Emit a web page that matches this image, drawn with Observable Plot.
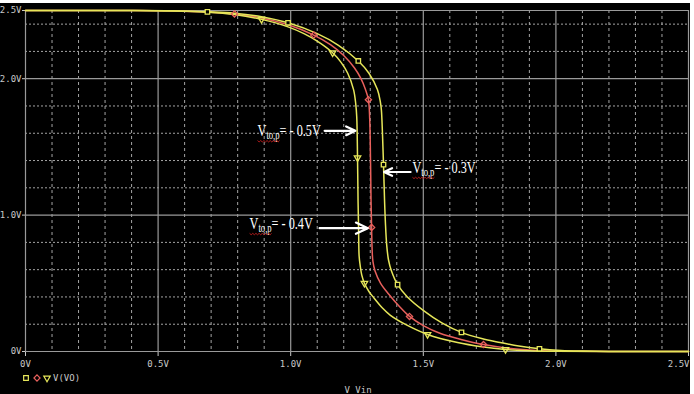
<!DOCTYPE html>
<html>
<head>
<meta charset="utf-8">
<script src="https://cdn.jsdelivr.net/npm/d3@7"></script>
<script src="https://cdn.jsdelivr.net/npm/@observablehq/plot@0.6"></script>
<style>
  html, body { margin: 0; padding: 0; background: #ffffff; }
  body { width: 694px; height: 394px; position: relative; overflow: hidden; }
  #panel { position: absolute; left: 0; top: 3px; width: 690px; height: 391px; background: #000; overflow: hidden; }
  #chart { position: absolute; left: 0; top: 0; }
  #legend { position: absolute; left: 20px; top: 368px; }
  #xtitle { position: absolute; left: 330px; top: 382px; width: 56px; text-align: center;
            font: 9px "DejaVu Sans Mono", monospace; color: #c8c8c8; }
</style>
</head>
<body>
<div id="panel">
  <div id="chart"></div>
  <div id="legend"></div>
  <div id="xtitle">V_Vin</div>
</div>
<script>
// ---------- data ----------
const xTicks = [0, 0.5, 1, 1.5, 2, 2.5];
const xTickLabels = ["0V", "0.5V", "1.0V", "1.5V", "2.0V", "2.5V"];
const yTicks = [0, 1, 2, 2.5];
const yTickLabels = ["0V", "1.0V", "2.0V", "2.5V"];
const xMinor = [0.1,0.2,0.3,0.4,0.6,0.7,0.8,0.9,1.1,1.2,1.3,1.4,1.6,1.7,1.8,1.9,2.1,2.2,2.3,2.4];
const yMinor = [0.2,0.4,0.6,0.8,1.2,1.4,1.6,1.8,2.2,2.4];
const xMajor = [0, 0.5, 1, 1.5, 2, 2.5];
const yMajor = [0, 1, 2, 2.5];

// Vto,p = -0.3 V (squares)
const curveSquare = [[0,2.5],[0.4,2.5],[0.55,2.498],[0.686,2.49],[0.788,2.48],[0.89,2.455],[0.99,2.41],[1.1,2.33],[1.18,2.245],[1.255,2.13],[1.295,2.04],[1.327,1.92],[1.338,1.83],[1.342,1.77],[1.346,1.6],[1.350,1.37],[1.354,1.1],[1.357,0.95],[1.362,0.78],[1.369,0.669],[1.38,0.59],[1.403,0.49],[1.44,0.40],[1.501,0.30],[1.57,0.21],[1.644,0.14],[1.72,0.095],[1.79,0.066],[1.86,0.04],[1.938,0.02],[2.02,0.008],[2.1,0.003],[2.2,0.0],[2.5,0]];
// Vto,p = -0.4 V (diamonds)
const curveDiamond = [[0,2.5],[0.4,2.5],[0.55,2.497],[0.686,2.488],[0.788,2.475],[0.89,2.445],[0.99,2.395],[1.087,2.32],[1.15,2.25],[1.20,2.17],[1.24,2.08],[1.265,2.0],[1.282,1.92],[1.293,1.846],[1.298,1.7],[1.301,1.4],[1.303,1.1],[1.305,0.91],[1.307,0.75],[1.310,0.66],[1.318,0.59],[1.339,0.5],[1.37,0.42],[1.41,0.33],[1.448,0.257],[1.50,0.19],[1.565,0.132],[1.65,0.085],[1.727,0.051],[1.83,0.022],[1.93,0.008],[2.05,0.002],[2.2,0],[2.5,0]];
// Vto,p = -0.5 V (triangles)
const curveTriangle = [[0,2.5],[0.4,2.5],[0.55,2.496],[0.686,2.487],[0.788,2.47],[0.89,2.435],[0.99,2.38],[1.05,2.33],[1.10,2.275],[1.158,2.19],[1.19,2.12],[1.215,2.04],[1.237,1.92],[1.245,1.82],[1.249,1.72],[1.252,1.42],[1.254,1.1],[1.256,0.9],[1.258,0.70],[1.262,0.63],[1.268,0.56],[1.278,0.50],[1.295,0.44],[1.312,0.397],[1.345,0.32],[1.376,0.265],[1.44,0.191],[1.516,0.125],[1.629,0.066],[1.72,0.035],[1.81,0.015],[1.9,0.006],[2.0,0.002],[2.2,0],[2.5,0]];

const markSquare = [[0.686,2.49],[0.99,2.41],[1.255,2.13],[1.350,1.37],[1.403,0.49],[1.644,0.14],[1.938,0.02]];
const markDiamond = [[0.788,2.475],[1.087,2.32],[1.293,1.846],[1.305,0.91],[1.448,0.257],[1.727,0.051]];
const markTriangle = [[0.89,2.435],[1.158,2.19],[1.252,1.42],[1.278,0.50],[1.516,0.125],[1.81,0.015]];

// annotations
const annotValues = ["- 0.5V", "- 0.3V", "- 0.4V"];
const annotX = [0.875, 1.459, 0.845];
const annotY = [1.618, 1.349, 0.9375];
const arrowX1 = [1.128, 1.452, 1.109];
const arrowX2 = [1.244, 1.352, 1.291];
const arrowY = [1.618, 1.316, 0.904];

const legendLabel = "V(VO)";

// ---------- styles ----------
const YEL = "#e6e65a";
const RED = "#e8605c";
const GRID = "#a4a4a4";
const TXT = "#c8c8c8";

const xy = {x: d => d[0], y: d => d[1]};
const annot = annotValues.map((v, i) => ({v, x: annotX[i], y: annotY[i]}));
const arrows = arrowX1.map((x1, i) => ({x1, x2: arrowX2[i], y: arrowY[i]}));
const xl = xTicks.map((v, i) => ({v, l: xTickLabels[i]}));
const yl = yTicks.map((v, i) => ({v, l: yTickLabels[i]}));

const chart = Plot.plot({
  width: 690,
  height: 372,
  marginLeft: 25,
  marginRight: 2,
  marginTop: 7,
  marginBottom: 24,
  style: {background: "#000", color: TXT, fontFamily: "DejaVu Sans Mono, monospace", fontSize: "9px"},
  x: {domain: [0, 2.5], ticks: xTicks, tickFormat: () => "", tickSize: 5, label: null},
  y: {domain: [0, 2.5], ticks: yTicks, tickFormat: () => "", tickSize: 3, label: null},
  marks: [
    Plot.ruleY(yMinor, {stroke: GRID, strokeDasharray: "2,2", strokeWidth: 1}),
    Plot.ruleX(xMinor, {stroke: GRID, strokeDasharray: "3,3", strokeWidth: 1}),
    Plot.ruleY(yMajor, {stroke: "#9a9a9a", strokeWidth: 1.2}),
    Plot.ruleX(xMajor, {stroke: "#9a9a9a", strokeWidth: 1.2}),
    Plot.line(curveDiamond, {...xy, stroke: RED, strokeWidth: 1.5, curve: "catmull-rom"}),
    Plot.line(curveTriangle, {...xy, stroke: YEL, strokeWidth: 1.5, curve: "catmull-rom"}),
    Plot.line(curveSquare, {...xy, stroke: YEL, strokeWidth: 1.5, curve: "catmull-rom"}),
    Plot.dot(markSquare, {...xy, symbol: "square", r: 2.5, stroke: YEL, fill: "#000", strokeWidth: 1.3}),
    Plot.dot(markDiamond, {...xy, symbol: "diamond2", r: 2.8, stroke: RED, fill: "none", strokeWidth: 1.3}),
    Plot.dot(markTriangle, {...xy, symbol: "triangle", r: 2.4, rotate: 180, stroke: YEL, fill: "none", strokeWidth: 1.3}),
    Plot.arrow(arrows, {x1: "x1", x2: "x2", y1: "y", y2: "y", stroke: "#fff", strokeWidth: 2.2, headLength: 9, headAngle: 50}),
    Plot.text(annot, {x: "x", y: "y", text: "v", textAnchor: "start", fill: "#fff",
      fontFamily: "Liberation Serif, serif", fontSize: 17}),
    Plot.text(xl.slice(0, 5), {x: "v", frameAnchor: "bottom", dy: 15, text: "l", fill: TXT}),
    Plot.text(xl.slice(5), {x: "v", frameAnchor: "bottom", dy: 15, dx: 1, textAnchor: "end", text: "l", fill: TXT}),
    Plot.text(yl, {y: "v", frameAnchor: "left", dx: -4, textAnchor: "end", text: "l", fill: TXT})
  ]
});
document.getElementById("chart").appendChild(chart);

// rebuild annotation labels with the subscript "to,p", condensed like the source
const SQUEEZE = 0.72;
d3.select(chart).selectAll("text").filter(function () {
  return annotValues.includes(this.textContent);
}).each(function () {
  const t = d3.select(this);
  const value = this.textContent;
  t.selectAll("*").remove();
  t.text(null);
  const v = t.append("tspan").text("V");
  const s = t.append("tspan").text("to,p").attr("font-size", 12).attr("dy", 3);
  t.append("tspan").text("= " + value).attr("dy", -3);
  const bb = this.getBBox();
  const x0 = bb.x;
  const old = t.attr("transform") || "";
  const squeeze = ` translate(${x0},0) scale(${SQUEEZE},1) translate(${-x0},0)`;
  t.attr("transform", old + squeeze);
  // red spell-check squiggle under "Vto,p"
  const bv = v.node().getBBox(), bs = s.node().getBBox();
  const xa = bv.x, xb = bs.x + bs.width, yb = bs.y + bs.height - 1;
  let d = `M${xa},${yb}`;
  for (let k = 1, x = xa; x < xb; k++) { x = xa + k * 2.2; d += `L${Math.min(x, xb)},${yb + (k % 2 ? 1.4 : 0)}`; }
  d3.select(this.parentNode).append("path").attr("d", d).attr("fill", "none")
    .attr("stroke", "#cc2020").attr("stroke-width", 1).attr("transform", old + squeeze);
});

// legend (symbols + series name)
const lg = d3.select("#legend").append("svg").attr("width", 90).attr("height", 14);
lg.append("path").attr("d", d3.symbol(d3.symbolSquare, 22)()).attr("transform", "translate(6,7)")
  .attr("fill", "none").attr("stroke", YEL).attr("stroke-width", 1.2);
lg.append("path").attr("d", d3.symbol(d3.symbolDiamond2, 24)()).attr("transform", "translate(17,7)")
  .attr("fill", "none").attr("stroke", RED).attr("stroke-width", 1.2);
lg.append("path").attr("d", d3.symbol(d3.symbolTriangle, 18)()).attr("transform", "translate(27,7) rotate(180)")
  .attr("fill", "none").attr("stroke", YEL).attr("stroke-width", 1.2);
lg.append("text").attr("x", 33).attr("y", 10).text(legendLabel)
  .attr("fill", TXT).attr("font-family", "DejaVu Sans Mono, monospace").attr("font-size", 9);
</script>
</body>
</html>
